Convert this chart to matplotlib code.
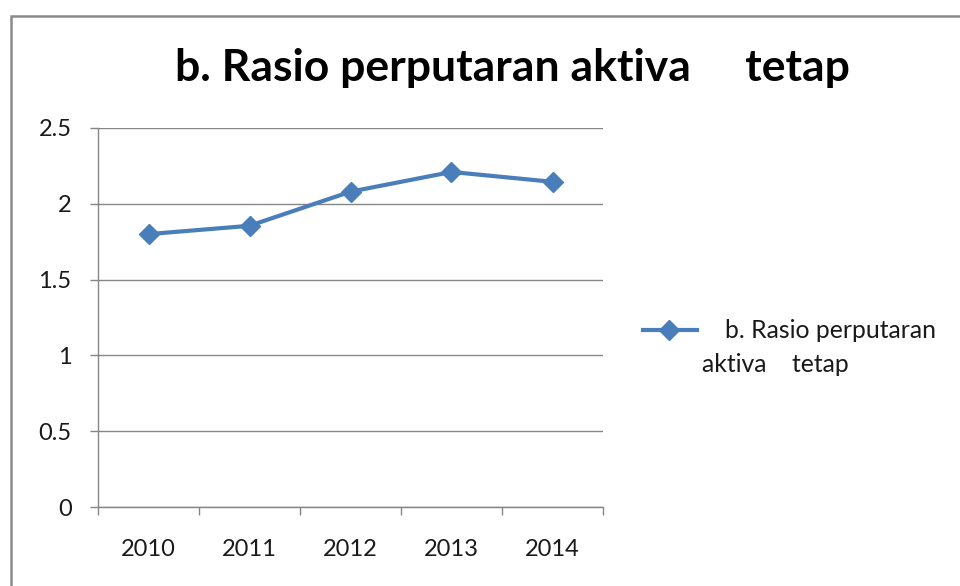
import matplotlib
matplotlib.use("Agg")
import matplotlib.pyplot as plt
from matplotlib.lines import Line2D
from matplotlib.patches import Rectangle

years = ["2010", "2011", "2012", "2013", "2014"]
values = [1.80, 1.855, 2.08, 2.21, 2.145]
yticks = [0, 0.5, 1, 1.5, 2, 2.5]
ytick_labels = ["0", "0.5", "1", "1.5", "2", "2.5"]
title = "b. Rasio perputaran aktiva     tetap"
legend_lines = ["b. Rasio perputaran", "aktiva    tetap"]

W, H = 960, 586
FONT = "Lato"
BLUE = "#4A7EBB"
GRID = "#868686"

fig = plt.figure(figsize=(W / 100, H / 100), dpi=100)
fig.patch.set_facecolor("white")

# outer chart border
fig.patches.append(Rectangle((11 / W, -0.05), 1.2, 1 - 16 / H + 0.05, transform=fig.transFigure,
                             fill=False, edgecolor="#8a8a8a", linewidth=1.8, zorder=0))

ax = fig.add_axes([98 / W, 1 - 507 / H, (603 - 98) / W, (507 - 128) / H])
x = list(range(len(years)))
ax.plot(x, values, color=BLUE, linewidth=3.0, marker="D", markersize=10,
        markerfacecolor=BLUE, markeredgecolor=BLUE, zorder=3, clip_on=False)

ax.set_xlim(-0.5, len(years) - 0.5)
ax.set_ylim(0, 2.5)
ax.set_yticks(yticks)
ax.set_yticklabels(ytick_labels, fontfamily=FONT, fontsize=17, color="#1a1a1a")
ax.set_xticks(x)
ax.set_xticklabels(years, fontfamily=FONT, fontsize=17, color="#1a1a1a")
ax.set_xticks([i - 0.5 for i in range(len(years) + 1)], minor=True)
ax.tick_params(axis="x", which="major", length=0, pad=23)
ax.tick_params(axis="x", which="minor", length=6, width=1, color=GRID, direction="out")
ax.tick_params(axis="y", which="major", length=6, width=1, color=GRID, direction="out", pad=13)
ax.yaxis.grid(True, color=GRID, linewidth=1)
ax.set_axisbelow(True)
for s in ["top", "right"]:
    ax.spines[s].set_visible(False)
for s in ["left", "bottom"]:
    ax.spines[s].set_color(GRID)
    ax.spines[s].set_linewidth(1)

fig.text(512 / W, 1 - 68 / H, title, ha="center", va="center",
         fontfamily=FONT, fontweight="bold", fontsize=32, color="black")

# legend
fig.add_artist(Line2D([643 / W, 697 / W], [1 - 330 / H, 1 - 330 / H], transform=fig.transFigure,
                      color=BLUE, linewidth=3.0))
fig.add_artist(Line2D([669 / W], [1 - 330 / H], transform=fig.transFigure, color=BLUE,
                      marker="D", markersize=10, linestyle="none"))
fig.text(725 / W, 1 - 331 / H, legend_lines[0], ha="left", va="center",
         fontfamily=FONT, fontsize=17.8, color="#1a1a1a")
fig.text(702 / W, 1 - 364 / H, legend_lines[1], ha="left", va="center",
         fontfamily=FONT, fontsize=17.8, color="#1a1a1a")

fig.savefig("out.png", dpi=100, facecolor="white")
